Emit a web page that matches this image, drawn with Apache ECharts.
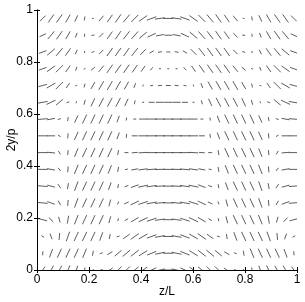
<!DOCTYPE html>
<html><head><meta charset="utf-8">
<script src="https://cdn.jsdelivr.net/npm/echarts@6/dist/echarts.min.js"></script>
<style>html,body{margin:0;padding:0;background:#fff}#c{width:305px;height:302px}</style>
</head><body><div id="c"></div>
<script>
// grid positions of the director samples
const zValues = [0.022,0.054,0.086,0.119,0.151,0.183,0.215,0.247,0.280,0.312,0.344,0.376,0.408,0.441,0.473,0.505,0.537,0.569,0.602,0.634,0.666,0.698,0.730,0.763,0.795,0.827,0.859,0.891,0.924,0.956,0.988];
const yValues = [0,0.0645,0.129,0.1935,0.258,0.3225,0.387,0.4515,0.516,0.5805,0.645,0.7095,0.774,0.8385,0.903,0.9675];
const xTicks = [0,0.2,0.4,0.6,0.8,1];
const yTicks = [0,0.2,0.4,0.6,0.8,1];

// in-plane angle (degrees) of each segment, row by row from y=0 upward
const angle0  = [55,60,60,65,70,80,60,20,35,45,45,40,35,25,12,0,-12,-25,-35,-40,-45,-45,-35,-20,-60,-80,-70,-65,-60,-60,-55];
const angle1  = [85,70,65,65,65,68,80,20,30,40,40,38,32,22,12,0,-12,-22,-32,-38,-40,-40,-30,-20,-80,-68,-65,-65,-65,-70,-85];
const angle2  = [-30,-70,85,70,65,65,65,70,80,20,35,35,30,20,10,0,-10,-20,-30,-35,-35,-20,-80,-70,-65,-65,-65,-70,-85,70,30];
const angle3  = [-15,-45,-75,80,68,65,65,65,75,80,30,30,25,18,8,0,-8,-18,-25,-30,-30,-80,-75,-65,-65,-65,-68,-80,75,45,15];
const angle4  = [-5,-20,-60,85,70,65,65,65,75,70,25,25,18,10,5,0,-5,-10,-18,-25,-25,-70,-75,-65,-65,-65,-70,-85,60,20,5];
const angle5  = [-5,-15,-55,80,70,65,65,65,70,80,20,20,12,8,3,0,-3,-8,-12,-20,-20,-80,-70,-65,-65,-65,-70,-80,55,15,5];
const angle6  = [0,-10,-50,85,68,65,65,65,68,80,10,10,8,5,2,0,-2,-5,-8,-10,-10,-80,-68,-65,-65,-65,-68,-85,50,10,0];
const angle7  = [0,-5,-60,85,68,65,65,65,65,80,0,5,3,0,0,0,0,0,-3,-5,0,-80,-65,-65,-65,-65,-68,-85,60,5,0];
const angle8  = [0,0,-30,85,65,65,65,65,65,70,85,0,0,0,0,0,0,0,0,0,-85,-70,-65,-65,-65,-65,-65,-85,30,0,0];
const angle9  = [5,10,20,80,65,65,65,65,65,70,80,0,0,0,0,0,0,0,0,0,-80,-70,-65,-65,-65,-65,-65,-80,-20,-10,-5];
const angle10 = [10,25,40,20,70,75,65,62,62,62,65,75,0,0,0,0,0,0,0,-75,-65,-62,-62,-62,-65,-75,-70,-20,-40,-25,-10];
const angle11 = [15,30,45,55,20,75,60,60,60,60,60,70,70,10,5,0,-5,-10,-70,-70,-60,-60,-60,-60,-60,-75,-20,-55,-45,-30,-15];
const angle12 = [20,35,45,55,70,30,40,50,55,55,55,55,55,50,0,0,0,-50,-55,-55,-55,-55,-55,-50,-40,-30,-70,-55,-45,-35,-20];
const angle13 = [20,40,50,55,65,80,20,45,55,55,55,52,45,30,10,0,-10,-30,-45,-52,-55,-55,-55,-45,-20,-80,-65,-55,-50,-40,-20];
const angle14 = [25,50,55,60,70,80,10,45,55,55,52,48,40,25,10,0,-10,-25,-40,-48,-52,-55,-55,-45,-10,-80,-70,-60,-55,-50,-25];
const angle15 = [45,55,55,60,65,80,20,50,55,55,50,45,35,20,8,0,-8,-20,-35,-45,-50,-55,-55,-50,-20,-80,-65,-60,-55,-55,-45];

// projected length of each segment (tenths of full length)
const len0  = [8,10,10,10,9,5,2,3,7,10,10,10,10,10,10,10,10,10,10,10,10,10,7,3,2,5,9,10,10,10,8];
const len1  = [4,9,10,10,10,10,5,3,6,9,10,10,10,10,10,10,10,10,10,10,10,9,6,3,5,10,10,10,10,9,4];
const len2  = [3,6,7,10,10,10,10,9,5,3,8,10,10,10,10,10,10,10,10,10,8,3,5,9,10,10,10,10,7,6,3];
const len3  = [9,6,6,8,10,10,10,10,7,3,4,9,10,10,10,10,10,10,10,9,4,3,7,10,10,10,10,8,6,6,9];
const len4  = [10,8,5,6,10,10,10,10,7,3,5,9,10,10,10,10,10,10,10,9,5,3,7,10,10,10,10,6,5,8,10];
const len5  = [10,8,5,6,10,10,10,10,8,4,4,8,10,10,10,10,10,10,10,8,4,4,8,10,10,10,10,6,5,8,10];
const len6  = [10,8,4,6,10,10,10,10,9,5,3,7,9,10,10,10,10,10,9,7,3,5,9,10,10,10,10,6,4,8,10];
const len7  = [10,8,4,5,9,10,10,10,10,5,4,6,9,10,10,10,10,10,9,6,4,5,10,10,10,10,9,5,4,8,10];
const len8  = [10,8,3,5,9,10,10,10,10,7,4,6,9,10,10,10,10,10,9,6,4,7,10,10,10,10,9,5,3,8,10];
const len9  = [10,8,3,4,8,10,10,10,10,7,3,3,8,10,10,10,10,10,8,3,3,7,10,10,10,10,8,4,3,8,10];
const len10 = [10,10,9,3,2,5,9,10,10,10,8,4,2,6,8,8,8,6,2,4,8,10,10,10,9,5,2,3,9,10,10];
const len11 = [9,10,10,6,2,4,8,10,10,10,9,5,2,3,4,5,4,3,2,5,9,10,10,10,8,4,2,6,10,10,9];
const len12 = [8,10,10,8,4,2,5,8,10,10,10,9,7,4,2,2,2,4,7,9,10,10,10,8,5,2,4,8,10,10,8];
const len13 = [8,10,10,9,5,2,3,6,10,10,10,10,8,5,4,4,4,5,8,10,10,10,10,6,3,2,5,9,10,10,8];
const len14 = [7,10,10,9,5,3,3,6,9,10,10,10,10,9,8,8,8,9,10,10,10,10,9,6,3,3,5,9,10,10,7];
const len15 = [8,10,10,9,7,4,2,7,9,10,10,10,10,10,10,10,10,10,10,10,10,10,9,7,2,4,7,9,10,10,8];

const angleRows = [angle0,angle1,angle2,angle3,angle4,angle5,angle6,angle7,angle8,angle9,angle10,angle11,angle12,angle13,angle14,angle15];
const lenRows = [len0,len1,len2,len3,len4,len5,len6,len7,len8,len9,len10,len11,len12,len13,len14,len15];

const data = [];
for (let r = 0; r < yValues.length; r++) {
  for (let k = 0; k < zValues.length; k++) {
    data.push([zValues[k], yValues[r], angleRows[r][k], lenRows[r][k]]);
  }
}

const FULL = 10; // px, full segment length
const font = 'Liberation Sans, Arial, sans-serif';
const chart = echarts.init(document.getElementById('c'), null, {renderer: 'canvas'});
const axisCommon = {
  type: 'value', min: 0, max: 1, interval: 0.2,
  axisLine: {show: true, lineStyle: {color: '#000', width: 1}},
  axisTick: {show: true, inside: true, length: 3, lineStyle: {color: '#000'}},
  splitLine: {show: false}
};
chart.setOption({
  animation: false,
  grid: {left: 37, right: 8, top: 10, bottom: 32, containLabel: false, outerBoundsMode: 'none'},
  xAxis: [
    Object.assign({}, axisCommon, {position: 'bottom', name: 'z/L', nameLocation: 'middle', nameGap: 16,
      nameMoveOverlap: false,
      nameTextStyle: {color: '#000', fontSize: 12, fontFamily: font},
      axisLabel: {color: '#000', fontSize: 12, fontFamily: font, margin: 4,
        formatter: v => xTicks.indexOf(+v.toFixed(1)) >= 0 ? String(+v.toFixed(1)) : ''}}),
    Object.assign({}, axisCommon, {position: 'top', axisLabel: {show: false}})
  ],
  yAxis: [
    Object.assign({}, axisCommon, {position: 'left', name: '2y/p', nameLocation: 'middle', nameGap: 19,
      nameMoveOverlap: false,
      nameTextStyle: {color: '#000', fontSize: 12, fontFamily: font},
      axisLabel: {color: '#000', fontSize: 12, fontFamily: font, margin: 4,
        formatter: v => yTicks.indexOf(+v.toFixed(1)) >= 0 ? String(+v.toFixed(1)) : ''}}),
    Object.assign({}, axisCommon, {position: 'right', axisLabel: {show: false}})
  ],
  series: [{
    type: 'custom',
    clip: true,
    data: data,
    renderItem: function (params, api) {
      const c = api.coord([api.value(0), api.value(1)]);
      const a = api.value(2) * Math.PI / 180;
      const h = api.value(3) / 10 * FULL / 2;
      const dx = Math.cos(a) * h, dy = Math.sin(a) * h;
      return {
        type: 'line',
        shape: {x1: c[0] - dx, y1: c[1] + dy, x2: c[0] + dx, y2: c[1] - dy},
        style: {stroke: '#333', lineWidth: 0.8}
      };
    }
  }]
});
</script></body></html>
